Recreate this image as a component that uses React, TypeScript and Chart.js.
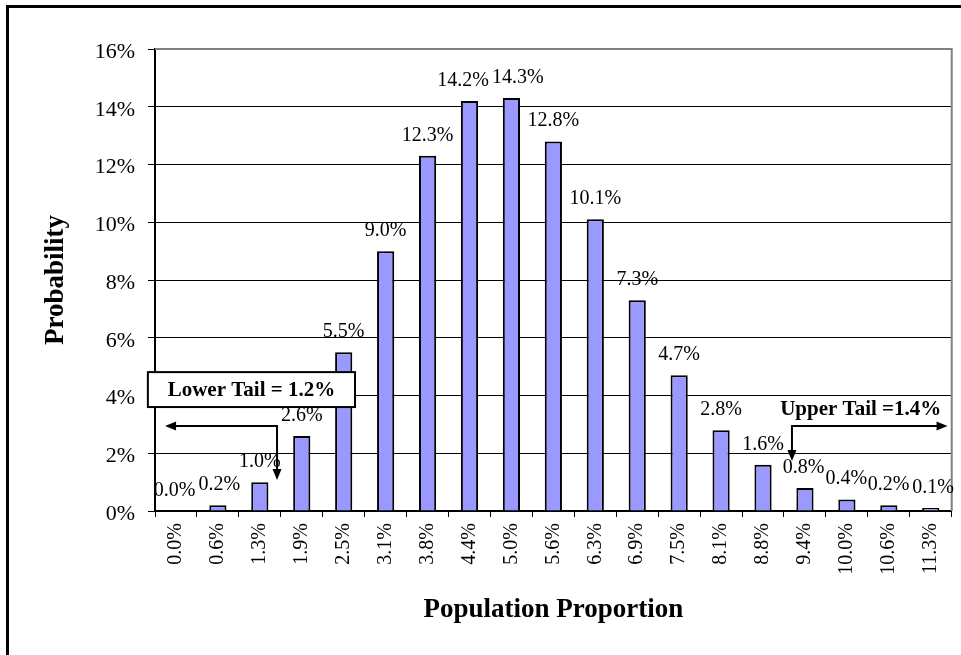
import React, { useEffect, useRef } from "react";
import { Chart, registerables } from "chart.js";

Chart.register(...registerables);

const FONT = "'Liberation Serif', 'Times New Roman', serif";

// ---- data ----
const categories = [
  "0.0%", "0.6%", "1.3%", "1.9%", "2.5%", "3.1%", "3.8%", "4.4%", "5.0%", "5.6%",
  "6.3%", "6.9%", "7.5%", "8.1%", "8.8%", "9.4%", "10.0%", "10.6%", "11.3%",
];
const probabilities = [
  0.0, 0.2, 1.0, 2.6, 5.5, 9.0, 12.3, 14.2, 14.3, 12.8,
  10.1, 7.3, 4.7, 2.8, 1.6, 0.8, 0.4, 0.2, 0.1,
];
const yTicks = [0, 2, 4, 6, 8, 10, 12, 14, 16];
const xTitle = "Population Proportion";
const yTitle = "Probability";

// annotation anchors, in data units (x: category index, y: percent)
const lowerTailLabel = "Lower Tail = 1.2%";
const upperTailLabel = "Upper Tail =1.4%";
const lowerBoxX = [-0.67, 4.27];
const lowerBoxY = [3.6, 4.81];
const lowerArrowCorner = [2.41, 2.94];
const lowerArrowLeftTipX = -0.26;
const lowerArrowDownTipY = 1.07;
const upperArrowCorner = [14.69, 2.94];
const upperArrowRightTipX = 18.4;
const upperArrowDownTipY = 1.73;
const upperTextAnchor = [16.33, 3.32];

function arrowHead(ctx: CanvasRenderingContext2D, tx: number, ty: number, dir: "left" | "right" | "down") {
  const L = 11, W = 4.5;
  ctx.beginPath();
  if (dir === "left") {
    ctx.moveTo(tx, ty); ctx.lineTo(tx + L, ty - W); ctx.lineTo(tx + L, ty + W);
  } else if (dir === "right") {
    ctx.moveTo(tx, ty); ctx.lineTo(tx - L, ty - W); ctx.lineTo(tx - L, ty + W);
  } else {
    ctx.moveTo(tx, ty); ctx.lineTo(tx - W, ty - L); ctx.lineTo(tx + W, ty - L);
  }
  ctx.closePath();
  ctx.fill();
}

const framePlugin = {
  id: "frame",
  beforeDraw(chart: any) {
    const ctx = chart.ctx as CanvasRenderingContext2D;
    ctx.save();
    ctx.fillStyle = "#fff";
    ctx.fillRect(0, 0, chart.width, chart.height);
    ctx.strokeStyle = "#000";
    ctx.lineWidth = 3;
    ctx.beginPath();
    ctx.moveTo(7.5, chart.height + 5);
    ctx.lineTo(7.5, 6.5);
    ctx.lineTo(chart.width + 5, 6.5);
    ctx.stroke();
    ctx.restore();
  },
  beforeDatasetsDraw(chart: any) {
    const ctx = chart.ctx as CanvasRenderingContext2D;
    const a = chart.chartArea;
    ctx.save();
    ctx.strokeStyle = "#808080";
    ctx.lineWidth = 2;
    ctx.beginPath();
    ctx.moveTo(a.left, a.top);
    ctx.lineTo(a.right, a.top);
    ctx.lineTo(a.right, a.bottom);
    ctx.stroke();
    ctx.restore();
  },
};

const labelsPlugin = {
  id: "labelsAndNotes",
  afterDatasetsDraw(chart: any) {
    const ctx = chart.ctx as CanvasRenderingContext2D;
    const xs = chart.scales.x;
    const ys = chart.scales.y;
    const meta = chart.getDatasetMeta(0);
    ctx.save();
    // data labels with simple collision avoidance
    ctx.font = `20px ${FONT}`;
    ctx.fillStyle = "#000";
    ctx.textAlign = "center";
    ctx.textBaseline = "alphabetic";
    const items = meta.data.map((bar: any, i: number) => {
      const text = probabilities[i].toFixed(1) + "%";
      return { text, x: bar.x, y: bar.y - 15, w: ctx.measureText(text).width };
    });
    for (let i = 1; i < items.length; i++) {
      const a = items[i - 1], b = items[i];
      if (Math.abs(a.y - b.y) < 14) {
        const overlap = (a.x + a.w / 2) - (b.x - b.w / 2) + 3;
        if (overlap > 0) {
          a.x -= overlap / 2;
          b.x += overlap / 2;
        }
      }
    }
    items.forEach((it: any) => ctx.fillText(it.text, it.x, it.y));

    // lower tail box
    const bx0 = xs.getPixelForValue(lowerBoxX[0]);
    const bx1 = xs.getPixelForValue(lowerBoxX[1]);
    const by0 = ys.getPixelForValue(lowerBoxY[1]);
    const by1 = ys.getPixelForValue(lowerBoxY[0]);
    ctx.fillStyle = "#fff";
    ctx.fillRect(bx0, by0, bx1 - bx0, by1 - by0);
    ctx.strokeStyle = "#000";
    ctx.lineWidth = 2;
    ctx.strokeRect(bx0, by0, bx1 - bx0, by1 - by0);
    ctx.fillStyle = "#000";
    ctx.font = `bold 21px ${FONT}`;
    ctx.textAlign = "center";
    ctx.textBaseline = "middle";
    ctx.fillText(lowerTailLabel, (bx0 + bx1) / 2, (by0 + by1) / 2 + 1);

    // lower arrow
    const lcx = xs.getPixelForValue(lowerArrowCorner[0]);
    const lcy = ys.getPixelForValue(lowerArrowCorner[1]);
    const llx = xs.getPixelForValue(lowerArrowLeftTipX);
    const ldy = ys.getPixelForValue(lowerArrowDownTipY);
    ctx.lineWidth = 2;
    ctx.beginPath();
    ctx.moveTo(llx + 8, lcy);
    ctx.lineTo(lcx, lcy);
    ctx.lineTo(lcx, ldy - 8);
    ctx.stroke();
    arrowHead(ctx, llx, lcy, "left");
    arrowHead(ctx, lcx, ldy, "down");

    // upper arrow
    const ucx = xs.getPixelForValue(upperArrowCorner[0]);
    const ucy = ys.getPixelForValue(upperArrowCorner[1]);
    const urx = xs.getPixelForValue(upperArrowRightTipX);
    const udy = ys.getPixelForValue(upperArrowDownTipY);
    ctx.beginPath();
    ctx.moveTo(urx - 8, ucy);
    ctx.lineTo(ucx, ucy);
    ctx.lineTo(ucx, udy - 8);
    ctx.stroke();
    arrowHead(ctx, urx, ucy, "right");
    arrowHead(ctx, ucx, udy, "down");

    // upper text
    ctx.font = `bold 21px ${FONT}`;
    ctx.textBaseline = "alphabetic";
    ctx.fillText(upperTailLabel, xs.getPixelForValue(upperTextAnchor[0]), ys.getPixelForValue(upperTextAnchor[1]));
    ctx.restore();
  },
};

export default function App() {
  const ref = useRef<HTMLCanvasElement | null>(null);
  useEffect(() => {
    if (!ref.current) return;
    const chart = new Chart(ref.current, {
      type: "bar",
      data: {
        labels: categories,
        datasets: [
          {
            data: probabilities,
            backgroundColor: "#9999FF",
            borderColor: "#000",
            borderWidth: 2,
            borderSkipped: "start",
            barPercentage: 0.41,
            categoryPercentage: 1,
          },
        ],
      },
      options: {
        responsive: false,
        animation: false,
        devicePixelRatio: 1,
        layout: { padding: { top: 49, right: 9, left: 0, bottom: 0 } },
        plugins: { legend: { display: false }, tooltip: { enabled: false } },
        scales: {
          x: {
            afterFit: (s: any) => { s.height = 144; },
            grid: { drawOnChartArea: false, color: "#000", tickLength: 6, lineWidth: 1, offset: true },
            border: { color: "#000", width: 2 },
            ticks: {
              autoSkip: false,
              minRotation: 90,
              maxRotation: 90,
              padding: 6,
              color: "#000",
              font: { family: FONT, size: 20 },
            },
            title: {
              display: true,
              text: xTitle,
              color: "#000",
              font: { family: FONT, size: 27, weight: "bold" },
              padding: { top: 0, bottom: 29 },
            },
          },
          y: {
            min: 0,
            max: 16,
            afterFit: (s: any) => { s.width = 155; },
            afterBuildTicks: (s: any) => { s.ticks = yTicks.map((v) => ({ value: v })); },
            grid: { color: "#000", lineWidth: 1, tickLength: 7 },
            border: { color: "#000", width: 2 },
            ticks: {
              stepSize: 2,
              padding: 13,
              labelOffset: 3,
              color: "#000",
              font: { family: FONT, size: 22 },
              callback: (v: any) => `${v}%`,
            },
            title: {
              display: true,
              text: yTitle,
              color: "#000",
              font: { family: FONT, size: 27, weight: "bold" },
              padding: { top: 40, bottom: 0 },
            },
          },
        },
      },
      plugins: [framePlugin, labelsPlugin],
    } as any);
    return () => chart.destroy();
  }, []);
  return (
    <div style={{ position: "fixed", left: 0, top: 0, width: 961, height: 655 }}>
      <canvas ref={ref} width={961} height={655} style={{ display: "block" }} />
    </div>
  );
}
